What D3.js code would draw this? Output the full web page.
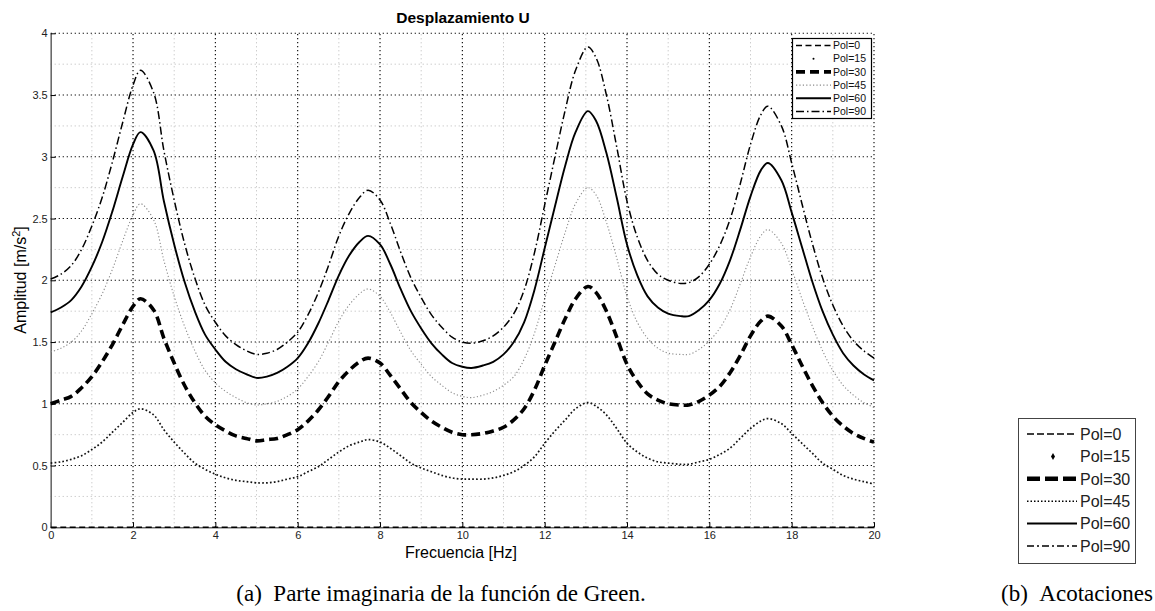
<!DOCTYPE html>
<html>
<head>
<meta charset="utf-8">
<script src="https://cdn.jsdelivr.net/npm/d3@7/dist/d3.min.js"></script>
<style>
  html, body { margin: 0; padding: 0; background: #fff; }
  svg { display: block; font-family: "Liberation Sans", Arial, sans-serif; }
</style>
</head>
<body>
<svg id="chart" width="1155" height="611"></svg>
<script>
// Frequency samples [Hz]
const freq = [0, 0.25, 0.5, 0.75, 1, 1.25, 1.5, 1.75, 2, 2.18, 2.5, 2.75, 3, 3.25, 3.5, 3.75,
  4, 4.25, 4.5, 4.75, 5, 5.25, 5.5, 5.75, 6, 6.25, 6.5, 6.75, 7, 7.25, 7.5, 7.71, 8, 8.25, 8.5,
  8.75, 9, 9.25, 9.5, 9.75, 10, 10.22, 10.5, 10.75, 11, 11.25, 11.5, 11.75, 12, 12.25, 12.5,
  12.75, 13.05, 13.25, 13.5, 13.75, 14, 14.25, 14.5, 14.75, 15, 15.3, 15.5, 15.75, 16, 16.25,
  16.5, 16.75, 17, 17.25, 17.42, 17.75, 18, 18.25, 18.5, 18.75, 19, 19.25, 19.5, 19.75, 20];

// Amplitude [m/s^2] for each polarization angle
const pol0 = [0, 0, 0, 0, 0, 0, 0, 0, 0, 0, 0, 0, 0, 0, 0, 0, 0, 0, 0, 0, 0, 0, 0, 0, 0, 0, 0,
  0, 0, 0, 0, 0, 0, 0, 0, 0, 0, 0, 0, 0, 0, 0, 0, 0, 0, 0, 0, 0, 0, 0, 0, 0, 0, 0,
  0, 0, 0, 0, 0, 0, 0, 0, 0, 0, 0, 0, 0, 0, 0, 0, 0, 0, 0, 0, 0, 0, 0, 0, 0, 0, 0];
const pol15 = [0.52, 0.53, 0.55, 0.58, 0.63, 0.69, 0.77, 0.85, 0.93, 0.96,
  0.91, 0.79, 0.69, 0.60, 0.52, 0.47, 0.43, 0.40, 0.38, 0.37,
  0.36, 0.36, 0.37, 0.39, 0.41, 0.45, 0.49, 0.55, 0.61, 0.66,
  0.69, 0.71, 0.69, 0.64, 0.58, 0.52, 0.48, 0.45, 0.42, 0.40,
  0.39, 0.39, 0.39, 0.40, 0.42, 0.45, 0.50, 0.57, 0.68, 0.78,
  0.87, 0.96, 1.01, 0.98, 0.91, 0.80, 0.68, 0.61, 0.56, 0.53,
  0.52, 0.51, 0.51, 0.53, 0.55, 0.59, 0.64, 0.72, 0.80, 0.86,
  0.88, 0.84, 0.76, 0.68, 0.60, 0.52, 0.47, 0.42, 0.39, 0.37, 0.35];
const pol30 = [1.00, 1.03, 1.06, 1.13, 1.22, 1.34, 1.48, 1.64, 1.79, 1.85,
  1.76, 1.53, 1.33, 1.15, 1.01, 0.90, 0.83, 0.78, 0.74, 0.72,
  0.70, 0.71, 0.72, 0.75, 0.79, 0.86, 0.95, 1.06, 1.18, 1.27,
  1.34, 1.37, 1.33, 1.23, 1.12, 1.01, 0.93, 0.86, 0.81, 0.77,
  0.75, 0.75, 0.76, 0.78, 0.81, 0.87, 0.96, 1.11, 1.31, 1.50,
  1.69, 1.85, 1.95, 1.90, 1.75, 1.54, 1.32, 1.18, 1.08, 1.03,
  1.00, 0.99, 0.99, 1.02, 1.07, 1.14, 1.25, 1.39, 1.55, 1.67,
  1.71, 1.63, 1.48, 1.31, 1.15, 1.01, 0.90, 0.82, 0.76, 0.72, 0.69];
const pol45 = [1.42, 1.45, 1.50, 1.59, 1.73, 1.89, 2.09, 2.32, 2.53, 2.62,
  2.49, 2.16, 1.87, 1.63, 1.43, 1.27, 1.17, 1.10, 1.05, 1.01,
  0.99, 1.00, 1.02, 1.06, 1.12, 1.22, 1.34, 1.50, 1.67, 1.80,
  1.89, 1.93, 1.87, 1.74, 1.58, 1.43, 1.32, 1.22, 1.15, 1.09,
  1.06, 1.05, 1.07, 1.10, 1.15, 1.22, 1.36, 1.57, 1.85, 2.12,
  2.39, 2.62, 2.75, 2.69, 2.47, 2.18, 1.87, 1.66, 1.53, 1.45,
  1.41, 1.40, 1.40, 1.44, 1.51, 1.61, 1.76, 1.97, 2.19, 2.36,
  2.41, 2.30, 2.09, 1.85, 1.63, 1.43, 1.27, 1.15, 1.07, 1.01, 0.97];
const pol60 = [1.74, 1.78, 1.84, 1.95, 2.11, 2.31, 2.56, 2.84, 3.10, 3.20,
  3.05, 2.64, 2.29, 1.99, 1.75, 1.56, 1.44, 1.34, 1.28, 1.24,
  1.21, 1.22, 1.25, 1.30, 1.37, 1.49, 1.65, 1.84, 2.04, 2.20,
  2.31, 2.36, 2.29, 2.13, 1.93, 1.75, 1.61, 1.49, 1.40, 1.33,
  1.30, 1.29, 1.31, 1.34, 1.40, 1.50, 1.66, 1.92, 2.26, 2.60,
  2.93, 3.20, 3.37, 3.29, 3.03, 2.67, 2.29, 2.04, 1.87, 1.78,
  1.73, 1.71, 1.71, 1.76, 1.84, 1.97, 2.16, 2.41, 2.68, 2.89,
  2.95, 2.81, 2.55, 2.27, 1.99, 1.75, 1.56, 1.41, 1.31, 1.24, 1.19];
const pol90 = [2.01, 2.05, 2.12, 2.25, 2.44, 2.67, 2.96, 3.28, 3.58, 3.70,
  3.52, 3.05, 2.65, 2.30, 2.02, 1.80, 1.66, 1.55, 1.48, 1.43,
  1.40, 1.41, 1.44, 1.50, 1.58, 1.72, 1.90, 2.12, 2.36, 2.54,
  2.67, 2.73, 2.65, 2.46, 2.23, 2.02, 1.86, 1.72, 1.62, 1.54,
  1.50, 1.49, 1.51, 1.55, 1.62, 1.73, 1.92, 2.22, 2.61, 3.00,
  3.38, 3.70, 3.89, 3.80, 3.50, 3.08, 2.64, 2.35, 2.16, 2.05,
  2.00, 1.975, 1.98, 2.03, 2.13, 2.28, 2.49, 2.78, 3.10, 3.34,
  3.41, 3.25, 2.95, 2.62, 2.30, 2.02, 1.80, 1.63, 1.51, 1.43, 1.37];

const seriesNames = ["Pol=0", "Pol=15", "Pol=30", "Pol=45", "Pol=60", "Pol=90"];

// Axis ticks
const xTicks = [0, 2, 4, 6, 8, 10, 12, 14, 16, 18, 20];
const xMinor = [1, 3, 5, 7, 9, 11, 13, 15, 17, 19];
const yTicks = [0, 0.5, 1, 1.5, 2, 2.5, 3, 3.5, 4];
const yMinor = [0.25, 0.75, 1.25, 1.75, 2.25, 2.75, 3.25, 3.75];
const yTickLabels = ["0", "0.5", "1", "1.5", "2", "2.5", "3", "3.5", "4"];

// Line styles per series
const styles = {
  "Pol=0":  { stroke: "#000", width: 1.6, dash: "6,3.5" },
  "Pol=15": { stroke: "#111", width: 1.7, dash: "1.7,2.2" },
  "Pol=30": { stroke: "#000", width: 3.6, dash: "9,5" },
  "Pol=45": { stroke: "#8a8a8a", width: 1.1, dash: "1.2,2.2" },
  "Pol=60": { stroke: "#000", width: 1.9, dash: null },
  "Pol=90": { stroke: "#000", width: 1.5, dash: "8,3,1.5,3" }
};

const seriesValues = [pol0, pol15, pol30, pol45, pol60, pol90];
const series = seriesNames.map((name, i) => ({
  name,
  points: freq.map((f, j) => ({ f, v: seriesValues[i][j] }))
}));

const svg = d3.select("#chart");
svg.append("rect").attr("width", 1155).attr("height", 611).attr("fill", "#fff");

const x = d3.scaleLinear().domain([0, 20]).range([50.7, 874]);
const y = d3.scaleLinear().domain([0, 4]).range([527.3, 33.3]);

const plot = svg.append("g");

// Minor grid
plot.append("g").selectAll("line").data(xMinor).join("line")
  .attr("x1", d => x(d)).attr("x2", d => x(d))
  .attr("y1", y(0)).attr("y2", y(4))
  .attr("stroke", "#b8b8b8").attr("stroke-width", 1).attr("stroke-dasharray", "1,3");
plot.append("g").selectAll("line").data(yMinor).join("line")
  .attr("x1", x(0)).attr("x2", x(20))
  .attr("y1", d => y(d)).attr("y2", d => y(d))
  .attr("stroke", "#b8b8b8").attr("stroke-width", 1).attr("stroke-dasharray", "1,3");

// Major grid
plot.append("g").selectAll("line").data(xTicks.slice(1)).join("line")
  .attr("x1", d => x(d)).attr("x2", d => x(d))
  .attr("y1", y(0)).attr("y2", y(4))
  .attr("stroke", "#000").attr("stroke-width", 1.1).attr("stroke-dasharray", "1.2,2.8");
plot.append("g").selectAll("line").data(yTicks.slice(1)).join("line")
  .attr("x1", x(0)).attr("x2", x(20))
  .attr("y1", d => y(d)).attr("y2", d => y(d))
  .attr("stroke", "#000").attr("stroke-width", 1.1).attr("stroke-dasharray", "1.2,2.8");

// Axes (left and bottom), ticks pointing inward
const xAxis = d3.axisBottom(x).tickValues(xTicks).tickFormat(d3.format("d"))
  .tickSizeInner(-5).tickSizeOuter(0).tickPadding(4);
const yAxis = d3.axisLeft(y).tickValues(yTicks).tickFormat((d, i) => yTickLabels[i])
  .tickSizeInner(-5).tickSizeOuter(0).tickPadding(3);

const gx = svg.append("g").attr("transform", `translate(0,${y(0)})`).call(xAxis);
const gy = svg.append("g").attr("transform", `translate(${x(0)},0)`).call(yAxis);
[gx, gy].forEach(g => {
  g.select(".domain").attr("stroke", "#6a6a6a").attr("stroke-width", 1.6);
  g.selectAll(".tick line").attr("stroke", "#000").attr("stroke-width", 1);
  g.selectAll(".tick text").attr("fill", "#222")
    .style("font-family", "'Liberation Sans', Arial, sans-serif").style("font-size", "11px");
});
gx.selectAll(".tick text").attr("dy", "0.71em");

// Curves
const line = d3.line().x(d => x(d.f)).y(d => y(d.v)).curve(d3.curveCatmullRom.alpha(0.5));
const curves = svg.append("g");
series.forEach(s => {
  const st = styles[s.name];
  curves.append("path")
    .datum(s.points)
    .attr("d", line)
    .attr("fill", "none")
    .attr("stroke", st.stroke)
    .attr("stroke-width", st.width)
    .attr("stroke-linejoin", "round")
    .attr("stroke-dasharray", st.dash);
});

// Titles
svg.append("text").attr("x", 463).attr("y", 23).attr("text-anchor", "middle")
  .style("font-size", "15.5px").style("font-weight", "bold").text("Desplazamiento U");
svg.append("text").attr("x", 461).attr("y", 558).attr("text-anchor", "middle")
  .style("font-size", "16px").text("Frecuencia [Hz]");
const yl = svg.append("text")
  .attr("transform", "translate(26,280) rotate(-90)")
  .attr("text-anchor", "middle").style("font-size", "16px");
yl.append("tspan").text("Amplitud [m/s");
yl.append("tspan").attr("dy", -6).style("font-size", "11px").text("2");
yl.append("tspan").attr("dy", 6).text("]");

// Legend inside the axes
const leg = svg.append("g");
leg.append("rect").attr("x", 792.5).attr("y", 38.5).attr("width", 79).attr("height", 80)
  .attr("fill", "#fff").attr("stroke", "#000").attr("stroke-width", 1.2);
seriesNames.forEach((name, i) => {
  const cy = 45.5 + i * 13.2;
  const st = styles[name];
  if (name === "Pol=15") {
    leg.append("circle").attr("cx", 813.5).attr("cy", cy).attr("r", 1).attr("fill", "#000");
  } else {
    leg.append("line").attr("x1", 796).attr("x2", 831).attr("y1", cy).attr("y2", cy)
      .attr("stroke", st.stroke).attr("stroke-width", st.width)
      .attr("stroke-dasharray", st.dash);
  }
  leg.append("text").attr("x", 833).attr("y", cy).attr("dy", "0.36em")
    .style("font-size", "10.5px").attr("fill", "#111").text(name);
});

// Separate key panel (b)
const key = svg.append("g");
key.append("rect").attr("x", 1018.5).attr("y", 418.5).attr("width", 117).attr("height", 145)
  .attr("fill", "#fff").attr("stroke", "#444").attr("stroke-width", 1);
const keyStyles = {
  "Pol=0":  { width: 1.6, dash: "7,3" },
  "Pol=30": { width: 4.5, dash: "13,5" },
  "Pol=45": { width: 1.5, dash: "1.5,2" },
  "Pol=60": { width: 2, dash: null },
  "Pol=90": { width: 1.6, dash: "7,3,2,3" }
};
seriesNames.forEach((name, i) => {
  const cy = 434 + i * 22.4;
  if (name === "Pol=15") {
    key.append("path")
      .attr("d", d3.symbol().type(d3.symbolDiamond).size(14)())
      .attr("transform", `translate(1053,${cy})`).attr("fill", "#000");
  } else {
    const ks = keyStyles[name];
    key.append("line").attr("x1", 1027).attr("x2", 1077).attr("y1", cy).attr("y2", cy)
      .attr("stroke", "#000").attr("stroke-width", ks.width)
      .attr("stroke-dasharray", ks.dash);
  }
  key.append("text").attr("x", 1080).attr("y", cy).attr("dy", "0.36em")
    .style("font-size", "16px").attr("fill", "#222").text(name);
});

// Captions
svg.append("text").attr("x", 441).attr("y", 601).attr("text-anchor", "middle")
  .style("font-family", "'Liberation Serif', 'Times New Roman', serif").style("font-size", "23px")
  .text("(a)\u2002Parte imaginaria de la función de Green.");
svg.append("text").attr("x", 1077).attr("y", 601).attr("text-anchor", "middle")
  .style("font-family", "'Liberation Serif', 'Times New Roman', serif").style("font-size", "23px")
  .text("(b)\u2002Acotaciones");
</script>
</body>
</html>
